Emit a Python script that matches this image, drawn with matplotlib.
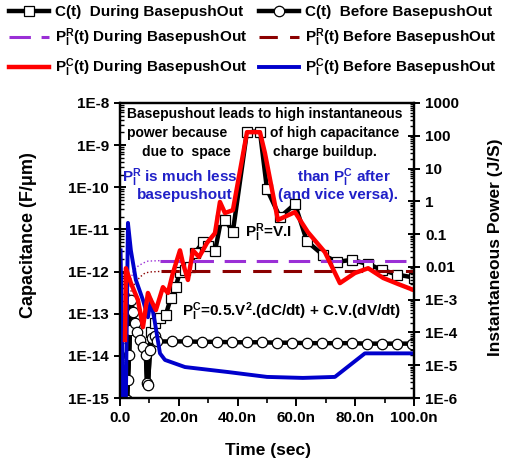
import matplotlib.pyplot as plt
import numpy as np
from matplotlib.ticker import FixedLocator, FixedFormatter, LogLocator, NullFormatter

plt.rcParams['font.family'] = ['Liberation Sans', 'DejaVu Sans']
plt.rcParams['font.weight'] = 'bold'
plt.rcParams['mathtext.fontset'] = 'custom'
plt.rcParams['mathtext.rm'] = 'Liberation Sans:bold'
plt.rcParams['mathtext.it'] = 'Liberation Sans:bold'
plt.rcParams['mathtext.bf'] = 'Liberation Sans:bold'
plt.rcParams['mathtext.default'] = 'rm'

# ============================================================
# Data (time in ns)
# ============================================================

# C(t) before basepushout (circles), left axis
t_c_before = [2.4, 2.7, 3.1, 3.4, 3.7, 4.4, 5.1, 5.8, 6.8, 7.8, 8.8, 9.2, 9.5,
              10.2, 10.9, 11.9, 12.6, 17.7, 22.8, 27.9, 33.0, 38.1, 43.2,
              48.3, 53.4, 58.5, 63.6, 68.7, 73.8, 78.9, 84.0, 89.1, 94.2, 99.3]
c_before = [8.9e-16, 2.7e-15, 1.04e-14, 4.2e-14, 2.1e-13, 1.1e-13, 6.1e-14,
            3.7e-14, 2.4e-14, 1.6e-14, 1.04e-14, 2.3e-15, 2.0e-15, 1.4e-14,
            2.7e-14, 3.0e-14, 2.2e-14, 2.2e-14, 2.2e-14, 2.15e-14, 2.15e-14,
            2.1e-14, 2.1e-14, 2.1e-14, 2.05e-14, 2.05e-14, 2.0e-14, 2.0e-14,
            2.0e-14, 2.0e-14, 1.95e-14, 1.95e-14, 1.95e-14, 1.95e-14]

# C(t) during basepushout (squares), left axis
t_c_during = [2.4, 2.7, 3.1, 3.4, 3.7, 4.4, 5.1, 5.8, 6.8, 7.8, 8.8, 9.2, 9.5,
              10.5, 11.9, 13.6, 15.6, 17.3, 19.0, 20.4, 22.1, 23.8, 25.5,
              28.2, 29.9, 32.3, 34.4, 35.7, 38.4, 43.2, 47.6, 50.0, 54.4,
              59.5, 63.6, 69.0, 73.8, 78.9, 84.4, 89.1, 94.2, 100.0]
c_during = [8.9e-16, 2.7e-15, 1.04e-14, 4.2e-14, 2.1e-13, 1.1e-13, 6.1e-14,
            3.7e-14, 2.4e-14, 1.6e-14, 1.04e-14, 2.3e-15, 2.0e-15,
            3.7e-14, 6.1e-14, 8.0e-14, 9.5e-14, 2.4e-13, 4.4e-13, 1.0e-12,
            1.1e-12, 1.25e-12, 2.8e-12, 4.9e-12, 4.0e-12, 3.0e-12, 1.7e-11,
            1.7e-11, 8.9e-12, 2.1e-9, 2.1e-9, 8.9e-11, 1.95e-11, 4.0e-11,
            5.2e-12, 2.5e-12, 1.7e-12, 1.9e-12, 1.5e-12, 1.1e-12, 8.5e-13,
            7.2e-13]
n_shared = 13

# P_I^R(t), right axis
t_pr_during = [2.7, 4.4, 6.1, 7.8, 9.5, 13.6, 30.0, 60.0, 100.0]
pr_during = [1.95e-3, 6.9e-3, 1.05e-2, 1.3e-2, 1.5e-2, 1.55e-2, 1.55e-2,
             1.55e-2, 1.55e-2]
t_pr_before = [3.1, 5.1, 6.8, 8.5, 10.2, 14.0, 30.0, 60.0, 100.0]
pr_before = [1.4e-3, 3.2e-3, 4.9e-3, 6.5e-3, 7.0e-3, 7.3e-3, 7.3e-3,
             7.3e-3, 7.3e-3]
n_rise = 6

# P_I^C(t), right axis
t_pc_during = [1.7, 2.0, 3.7, 6.1, 7.8, 9.5, 10.5, 12.2, 14.6, 16.3, 18.0,
               20.4, 21.4, 23.1, 24.8, 26.9, 29.6, 32.3, 34.0, 35.7, 38.4,
               43.2, 47.6, 49.3, 53.7, 59.5, 63.9, 69.7, 74.8, 79.9, 84.4,
               89.5, 94.6, 100.0]
pc_during = [5.9e-5, 9.1e-3, 3.2e-3, 9.8e-4, 1.45e-4, 1.6e-3, 9.8e-4,
             4.8e-4, 2.4e-3, 1.6e-3, 6.5e-3, 3.2e-2, 1.3e-2, 4.0e-3, 3.2e-2,
             2.0e-2, 5.4e-2, 0.107, 0.96, 0.44, 0.54, 129.0, 129.0, 29.5,
             0.27, 0.47, 0.115, 2.8e-2, 3.2e-3, 6.5e-3, 9.1e-3, 4.6e-3,
             3.0e-3, 1.95e-3]

t_pc_before = [0.2, 1.0, 2.0, 2.7, 3.7, 5.4, 7.8, 9.5, 10.5, 11.9, 13.6,
               15.3, 22.1, 36.7, 50.0, 62.2, 73.1, 83.3, 100.0]
pc_before = [3.2e-2, 8e-7, 8e-7, 0.22, 3.2e-2, 4.0e-3, 9.8e-4, 2.9e-4,
             9.8e-4, 1.94e-4, 2.3e-5, 1.45e-5, 8.8e-6, 6.2e-6, 4.4e-6,
             4.1e-6, 4.4e-6, 2.3e-5, 2.3e-5]

x_ticks = [0, 20, 40, 60, 80, 100]
x_tick_labels = ["0.0", "20.0n", "40.0n", "60.0n", "80.0n", "100.0n"]
c_ticks = [1e-15, 1e-14, 1e-13, 1e-12, 1e-11, 1e-10, 1e-9, 1e-8]
c_tick_labels = ["1E-15", "1E-14", "1E-13", "1E-12", "1E-11", "1E-10",
                 "1E-9", "1E-8"]
p_ticks = [1e-6, 1e-5, 1e-4, 1e-3, 1e-2, 1e-1, 1, 10, 100, 1000]
p_tick_labels = ["1E-6", "1E-5", "1E-4", "1E-3", "0.01", "0.1", "1", "10",
                 "100", "1000"]

# ============================================================
# Figure
# ============================================================

W, H = 513, 466
fig = plt.figure(figsize=(W / 100, H / 100), dpi=100)
ax = fig.add_axes([120 / W, 68 / H, 294 / W, 295 / H])
ax2 = ax.twinx()

purple = "#9a2fd6"
darkred = "#8b0000"
blue = "#0000cc"

l_cd, = ax.plot(t_c_during, c_during, color="black", lw=3.2, marker="s",
                ms=6.5, mfc="white", mec="black", mew=0.9,
                markevery=slice(n_shared, None), zorder=2)
l_cb, = ax.plot(t_c_before, c_before, color="black", lw=3.2, marker="o",
                ms=7.5, mfc="white", mec="black", mew=0.9, zorder=3)

ax2.plot(t_pr_during[:n_rise], pr_during[:n_rise], color=purple, lw=1.0,
         ls=":")
l_prd, = ax2.plot(t_pr_during[n_rise - 1:], pr_during[n_rise - 1:],
                  color=purple, lw=2.2, dashes=(7, 3.5))
ax2.plot(t_pr_before[:n_rise], pr_before[:n_rise], color=darkred, lw=1.0,
         ls=":")
l_prb, = ax2.plot(t_pr_before[n_rise - 1:], pr_before[n_rise - 1:],
                  color=darkred, lw=2.2, dashes=(6, 4))
l_pcb, = ax2.plot(t_pc_before, pc_before, color=blue, lw=2.8)
l_pcd, = ax2.plot(t_pc_during, pc_during, color="red", lw=3.2)

# axes formatting
ax.set_xlim(0, 100)
ax.set_yscale("log")
ax.set_ylim(1e-15, 1e-8)
ax2.set_yscale("log")
ax2.set_ylim(1e-6, 1e3)

ax.xaxis.set_major_locator(FixedLocator(x_ticks))
ax.xaxis.set_major_formatter(FixedFormatter(x_tick_labels))
ax.xaxis.set_minor_locator(FixedLocator([10, 30, 50, 70, 90]))

ax.yaxis.set_major_locator(FixedLocator(c_ticks))
ax.yaxis.set_major_formatter(FixedFormatter(c_tick_labels))
ax.yaxis.set_minor_locator(LogLocator(base=10, subs=np.arange(2, 10), numticks=100))
ax.yaxis.set_minor_formatter(NullFormatter())

ax2.yaxis.set_major_locator(FixedLocator(p_ticks))
ax2.yaxis.set_major_formatter(FixedFormatter(p_tick_labels))
ax2.yaxis.set_minor_locator(LogLocator(base=10, subs=np.arange(2, 10), numticks=100))
ax2.yaxis.set_minor_formatter(NullFormatter())

for a in (ax, ax2):
    for sp in a.spines.values():
        sp.set_linewidth(1.6)

ax.tick_params(axis="x", which="major", direction="out", length=6, width=1.4,
               labelsize=11, top=False)
ax.tick_params(axis="x", which="minor", direction="out", length=3.5, width=1.2,
               top=False)
ax.tick_params(axis="y", which="major", direction="inout", length=9, width=1.4,
               labelsize=11, right=False)
ax.tick_params(axis="y", which="minor", direction="in", length=3, width=1.0,
               right=False)
ax2.tick_params(axis="y", which="major", direction="inout", length=9, width=1.4,
                labelsize=11, left=False)
ax2.tick_params(axis="y", which="minor", direction="in", length=3, width=1.0,
                left=False)

ax.set_xlabel("Time (sec)", fontsize=12.5, fontweight="bold")
ax.set_ylabel("Capacitance (F/\u03bcm)", fontsize=13, fontweight="bold")
ax2.set_ylabel("Instantaneous Power (J/S)", fontsize=12.5, fontweight="bold")
ax.xaxis.set_label_coords(0.503, -0.153)
ax.yaxis.set_label_coords(-0.282, 0.553)
ax2.yaxis.set_label_coords(1.252, 0.512)


# ============================================================
# Annotations
# ============================================================

def ftext(x, y, s, **kw):
    fig.text(x / W, 1 - y / H, s, va="center", **kw)


ftext(265, 114, "Basepushout leads to high instantaneous", ha="center",
      fontsize=10)
ftext(127, 133, "power because", ha="left", fontsize=10)
ftext(270, 133, "of high capacitance", ha="left", fontsize=10)
ftext(142, 152, "due to  space", ha="left", fontsize=10)
ftext(273, 152, "charge buildup.", ha="left", fontsize=10)

tblue = "#2020c8"
ftext(122, 178, r"P$_I^R$ is much less", ha="left", fontsize=11, color=tblue)
ftext(137, 195, "basepushout", ha="left", fontsize=11, color=tblue)
ftext(297, 178, r"than P$_I^C$ after", ha="left", fontsize=11, color=tblue)
ftext(278, 195, "(and vice versa).", ha="left", fontsize=11, color=tblue)

ftext(245, 233, r"P$_I^R$=V.I", ha="left", fontsize=11)
ftext(182, 312, r"P$_I^C$=0.5.V$^2$.(dC/dt) + C.V.(dV/dt)", ha="left",
      fontsize=11)

# ============================================================
# Legend
# ============================================================

handles = [l_cd, l_prd, l_pcd, l_cb, l_prb, l_pcb]
labels = ["C(t)  During BasepushOut",
          r"P$_I^R$(t) During BasepushOut",
          r"P$_I^C$(t) During BasepushOut",
          "C(t)  Before BasepushOut",
          r"P$_I^R$(t) Before BasepushOut",
          r"P$_I^C$(t) Before BasepushOut"]
fig.legend(handles, labels, ncol=2, loc="upper left",
           bbox_to_anchor=(9 / W, 1 - 5 / H), frameon=False, fontsize=11,
           handlelength=2.6, handletextpad=0.4, columnspacing=0.8,
           labelspacing=0.5, borderaxespad=0, borderpad=0, numpoints=1)

fig.savefig("out.png", dpi=100)
